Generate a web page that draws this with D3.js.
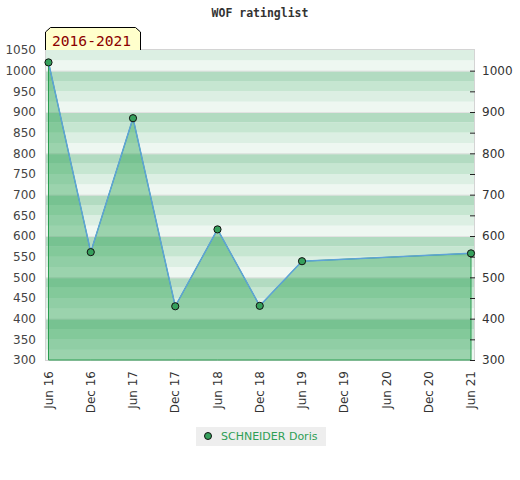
<!DOCTYPE html>
<html>
<head>
<meta charset="utf-8">
<script src="https://cdn.jsdelivr.net/npm/d3@7"></script>
<style>
  body { margin: 0; background: #fff; }
  svg { font-family: "DejaVu Sans", sans-serif; }
</style>
</head>
<body>
<svg id="chart" width="520" height="480"></svg>
<script>
const tickLabels = ["Jun 16", "Dec 16", "Jun 17", "Dec 17", "Jun 18", "Dec 18",
                    "Jun 19", "Dec 19", "Jun 20", "Dec 20", "Jun 21"];
const periods = ["Jun 16", "Dec 16", "Jun 17", "Dec 17", "Jun 18", "Dec 18", "Jun 19", "Jun 21"];
const ratings = [1020, 561, 885, 430, 616, 431, 539, 558];
const leftTicks = d3.range(300, 1051, 50);
const rightTicks = [300, 400, 500, 600, 700, 800, 900, 1000];
const playerName = "SCHNEIDER Doris";
const periodLabel = "2016-2021";

const svg = d3.select("#chart");
const plot = { left: 46, right: 474, top: 50, bottom: 360 };

const x = d3.scalePoint()
   .domain(tickLabels)
   .range([48.5, 471]);
const y = d3.scaleLinear()
   .domain([300, 1050])
   .range([plot.bottom, plot.top]);

// striped background, 4 shades per 100 points
const shades = ["#eef7f1", "#dcefe3", "#c6e6d1", "#b2dbc1"];
svg.append("g").selectAll("rect")
   .data(d3.range(300, 1050, 25))
   .join("rect")
   .attr("x", plot.left)
   .attr("width", plot.right - plot.left)
   .attr("y", d => y(d + 25))
   .attr("height", d => y(d) - y(d + 25))
   .attr("fill", d => shades[(d % 100) / 25]);

svg.append("g").selectAll("line")
   .data(d3.range(400, 1050, 100))
   .join("line")
   .attr("x1", plot.left).attr("x2", plot.right)
   .attr("y1", d => y(d) + 0.5).attr("y2", d => y(d) + 0.5)
   .attr("stroke", "#e2e2e2");

svg.append("rect")
   .attr("x", plot.left - 0.5).attr("y", plot.top - 0.5)
   .attr("width", plot.right - plot.left + 1).attr("height", plot.bottom - plot.top + 1)
   .attr("fill", "none").attr("stroke", "#d4d4d4");

const data = periods.map((p, i) => ({ p: p, v: ratings[i] }));

const area = d3.area()
   .x(d => x(d.p))
   .y0(y(300))
   .y1(d => y(d.v));
svg.append("path")
   .datum(data)
   .attr("d", area)
   .attr("fill", "rgb(30,157,73)")
   .attr("fill-opacity", 0.4)
   .attr("stroke", "#2a9d50")
   .attr("stroke-width", 1);

const line = d3.line()
   .x(d => x(d.p))
   .y(d => y(d.v));
svg.append("path")
   .datum(data)
   .attr("d", line)
   .attr("fill", "none")
   .attr("stroke", "#5ea3d8")
   .attr("stroke-width", 1.5);

svg.append("g").selectAll("circle")
   .data(data)
   .join("circle")
   .attr("cx", d => x(d.p))
   .attr("cy", d => y(d.v))
   .attr("r", 3.6)
   .attr("fill", "#36a05c")
   .attr("stroke", "#111")
   .attr("stroke-width", 1);

// left axis, labels only
svg.append("g").selectAll("text")
   .data(leftTicks)
   .join("text")
   .attr("x", 36)
   .attr("y", d => y(d))
   .attr("dy", "0.35em")
   .attr("text-anchor", "end")
   .attr("font-size", 12)
   .attr("fill", "#444")
   .text(d => d);

// right axis
const yRight = d3.axisRight(y)
   .tickValues(rightTicks)
   .tickFormat(d3.format("d"))
   .tickSize(0)
   .tickPadding(8);
const gr = svg.append("g")
   .attr("transform", `translate(${plot.right},0)`)
   .call(yRight)
   .attr("font-family", null);
gr.select(".domain").remove();
gr.selectAll("text").attr("font-size", 12).attr("fill", "#333");
svg.append("g").selectAll("line")
   .data(d3.range(300, 1050, 50))
   .join("line")
   .attr("x1", plot.right - 4).attr("x2", plot.right + 1)
   .attr("y1", d => y(d) + 0.5).attr("y2", d => y(d) + 0.5)
   .attr("stroke", "#222");

// x labels, rotated
svg.append("g").selectAll("text")
   .data(tickLabels)
   .join("text")
   .attr("transform", d => `translate(${x(d) + 4},371) rotate(-90)`)
   .attr("text-anchor", "end")
   .attr("font-size", 12)
   .attr("fill", "#333")
   .text(d => d);

// title
svg.append("text")
   .attr("x", 260).attr("y", 17)
   .attr("text-anchor", "middle")
   .style("font-family", "'DejaVu Sans Mono', monospace")
   .attr("font-weight", "bold")
   .attr("font-size", 11.5)
   .attr("fill", "#333")
   .text("WOF ratinglist");

// period tag
svg.append("path")
   .attr("d", "M45.5,50 L45.5,32 L50.5,27.5 L135.5,27.5 L140.5,32 L140.5,50")
   .attr("fill", "#ffffcc")
   .attr("stroke", "#000");
svg.append("text")
   .attr("x", 52).attr("y", 46)
   .style("font-family", "'DejaVu Sans Mono', monospace")
   .attr("font-size", 14.6)
   .attr("fill", "#8b0000")
   .text(periodLabel);

// legend
const lg = svg.append("g");
lg.append("rect")
   .attr("x", 196).attr("y", 427).attr("width", 130).attr("height", 19)
   .attr("fill", "#eeeeee");
lg.append("circle")
   .attr("cx", 208).attr("cy", 436).attr("r", 3.5)
   .attr("fill", "#36a05c").attr("stroke", "#111");
lg.append("text")
   .attr("x", 221).attr("y", 440)
   .attr("font-size", 11)
   .attr("fill", "#2e9e55")
   .text(playerName);
</script>
</body>
</html>
